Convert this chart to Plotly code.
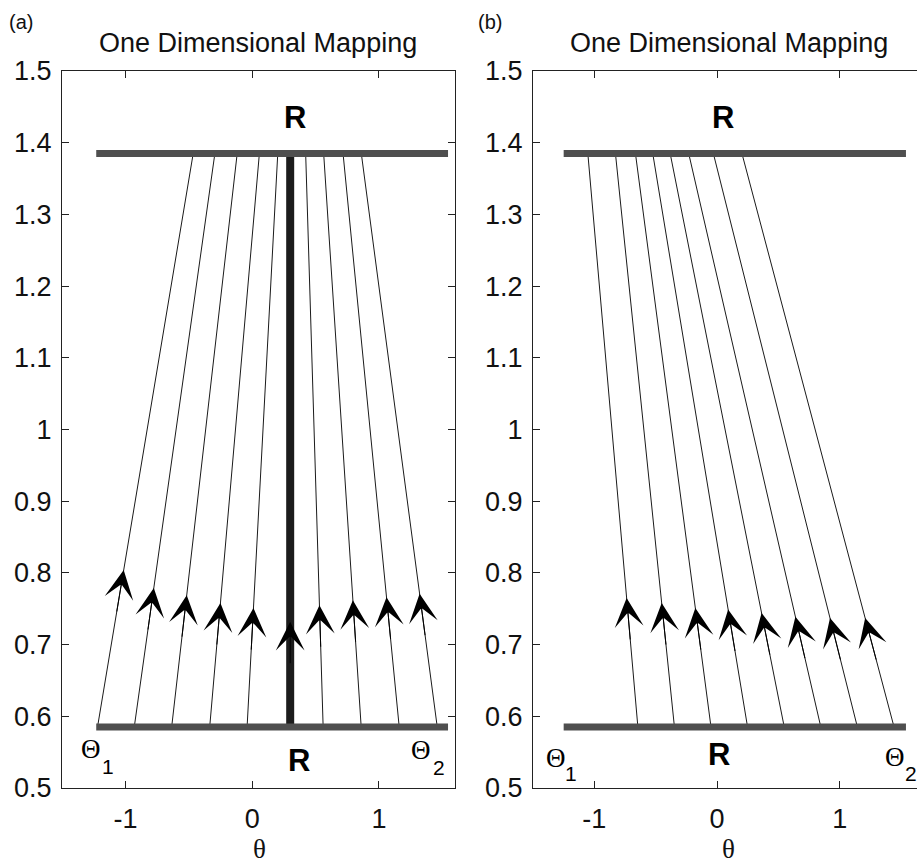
import plotly.graph_objects as go

W, H = 917, 865

# ---------------- data ----------------
y_bottom_bar = 0.585
y_top_bar = 1.385

# panel (a)
a_bar_extent = [-1.23, 1.545]
a_fixed_point = 0.30
a_fixed_arrow_y = 0.732
a_bottom = [-1.22, -0.93, -0.635, -0.335, -0.04, 0.56, 0.86, 1.16, 1.46]
a_top = [-0.465, -0.294, -0.118, 0.057, 0.202, 0.422, 0.564, 0.717, 0.861]
a_arrow_y = [0.804, 0.779, 0.769, 0.758, 0.751, 0.755, 0.762, 0.766, 0.771]

# panel (b)
b_bar_extent = [-1.25, 1.54]
b_bottom = [-0.645, -0.347, -0.049, 0.249, 0.548, 0.846, 1.144, 1.443]
b_top = [-1.053, -0.828, -0.665, -0.524, -0.382, -0.231, -0.030, 0.203]
b_arrow_y = [0.765, 0.758, 0.751, 0.749, 0.744, 0.739, 0.737, 0.737]

x_tickvals = [-1, 0, 1]
x_ticktext = ["-1", "0", "1"]
y_tickvals = [0.5, 0.6, 0.7, 0.8, 0.9, 1.0, 1.1, 1.2, 1.3, 1.4, 1.5]
y_ticktext = ["0.5", "0.6", "0.7", "0.8", "0.9", "1", "1.1", "1.2", "1.3", "1.4", "1.5"]

title_text = "One Dimensional Mapping"

SANS = "Liberation Sans, Arial, sans-serif"
SERIF = "Liberation Serif, Times New Roman, serif"
BAR_COLOR = "#4f4f4f"
LINE_COLOR = "#1a1a1a"
ARROW_SIZE = 4.8


def px(xp):
    return xp / W


def py(yp):
    return 1 - yp / H


fig = go.Figure()
annotations = []


def arrow(xr, yr, tipx, tipy, tailx, taily):
    annotations.append(dict(x=tipx, y=tipy, ax=tailx, ay=taily, xref=xr, yref=yr,
                            axref=xr, ayref=yr, text="", showarrow=True, arrowhead=3,
                            arrowsize=ARROW_SIZE, arrowwidth=1, arrowcolor="black"))


def add_panel(xr, yr, bottoms, tops, arrow_ys):
    for xb, xt, ay in zip(bottoms, tops, arrow_ys):
        fig.add_trace(go.Scatter(x=[xb, xt], y=[y_bottom_bar, y_top_bar], mode="lines",
                                 line=dict(color=LINE_COLOR, width=1), xaxis=xr, yaxis=yr,
                                 showlegend=False, hoverinfo="skip"))
        f = (ay - y_bottom_bar) / (y_top_bar - y_bottom_bar)
        tipx = xb + f * (xt - xb)
        f0 = (ay - 0.06 - y_bottom_bar) / (y_top_bar - y_bottom_bar)
        tailx = xb + f0 * (xt - xb)
        arrow(xr, yr, tipx, ay, tailx, ay - 0.06)


add_panel("x", "y", a_bottom, a_top, a_arrow_y)

# thick fixed-point line in (a)
fig.add_trace(go.Scatter(x=[a_fixed_point, a_fixed_point], y=[y_bottom_bar, y_top_bar], mode="lines",
                         line=dict(color="#1c1c1c", width=8), xaxis="x", yaxis="y",
                         showlegend=False, hoverinfo="skip"))
arrow("x", "y", a_fixed_point, a_fixed_arrow_y, a_fixed_point, a_fixed_arrow_y - 0.06)

add_panel("x2", "y2", b_bottom, b_top, b_arrow_y)

# horizontal R bars
for xr, yr, ext in [("x", "y", a_bar_extent), ("x2", "y2", b_bar_extent)]:
    for yv in (y_bottom_bar, y_top_bar):
        fig.add_trace(go.Scatter(x=ext, y=[yv, yv], mode="lines",
                                 line=dict(color=BAR_COLOR, width=7), xaxis=xr, yaxis=yr,
                                 showlegend=False, hoverinfo="skip"))

# R labels
for xr, yr, (xt, yt), (xb, yb) in [("x", "y", (0.341, 1.435), (0.373, 0.539)),
                                   ("x2", "y2", (0.045, 1.435), (0.016, 0.547))]:
    for xx, yy in [(xt, yt), (xb, yb)]:
        annotations.append(dict(x=xx, y=yy, xref=xr, yref=yr, text="<b>R</b>", showarrow=False,
                                xanchor="center", yanchor="middle",
                                font=dict(family=SANS, size=31, color="black")))


def ptext(x, y, text, family, size, color="#111", yanchor="middle"):
    annotations.append(dict(x=px(x), y=py(y), xref="paper", yref="paper", text=text,
                            showarrow=False, xanchor="center", yanchor=yanchor, borderpad=0,
                            font=dict(family=family, size=size, color=color)))


# Theta labels (pixel positions)
for (tx, ty, sx, sy, d) in [(91, 749, 108, 766, "1"), (421, 750, 439, 767, "2"),
                            (556, 758, 571, 773, "1"), (895, 757, 911, 773, "2")]:
    ptext(tx, ty, "Θ", SERIF, 27, "black")
    ptext(sx, sy, d, SANS, 21, "black")

# titles, panel tags, axis titles
for cx in (258, 729):
    ptext(cx, 43, title_text, SANS, 27)
ptext(21, 22, "(a)", SANS, 20)
ptext(490, 22, "(b)", SANS, 20)
for cx in (259, 728):
    ptext(cx, 865, "θ", SERIF, 27, yanchor="bottom")

axis_common = dict(showgrid=False, zeroline=False, showline=True, linecolor="#222", linewidth=1,
                   ticks="inside", ticklen=7, tickcolor="#222", tickwidth=1, automargin=False,
                   tickfont=dict(family=SANS, size=27, color="#111"))

fig.update_layout(
    width=W, height=H, margin=dict(l=0, r=0, t=0, b=0, autoexpand=False),
    paper_bgcolor="white", plot_bgcolor="white",
    xaxis=dict(domain=[62 / W, 455 / W], range=[-1.5, 1.6], anchor="y", mirror="ticks",
               tickvals=x_tickvals, ticktext=x_ticktext, ticklabelstandoff=7, **axis_common),
    yaxis=dict(domain=[77 / H, 794 / H], range=[0.5, 1.5], anchor="x", mirror="ticks",
               tickvals=y_tickvals, ticktext=y_ticktext, ticklabelstandoff=4, **axis_common),
    xaxis2=dict(domain=[533 / W, 1.0], range=[-1.5, 1.63], anchor="y2", mirror="ticks",
                tickvals=x_tickvals, ticktext=x_ticktext, ticklabelstandoff=7, **axis_common),
    yaxis2=dict(domain=[77 / H, 794 / H], range=[0.5, 1.5], anchor="x2", mirror=False,
                tickvals=y_tickvals, ticktext=y_ticktext, ticklabelstandoff=4, **axis_common),
    annotations=annotations,
    showlegend=False,
)

fig.write_html("out.html")
